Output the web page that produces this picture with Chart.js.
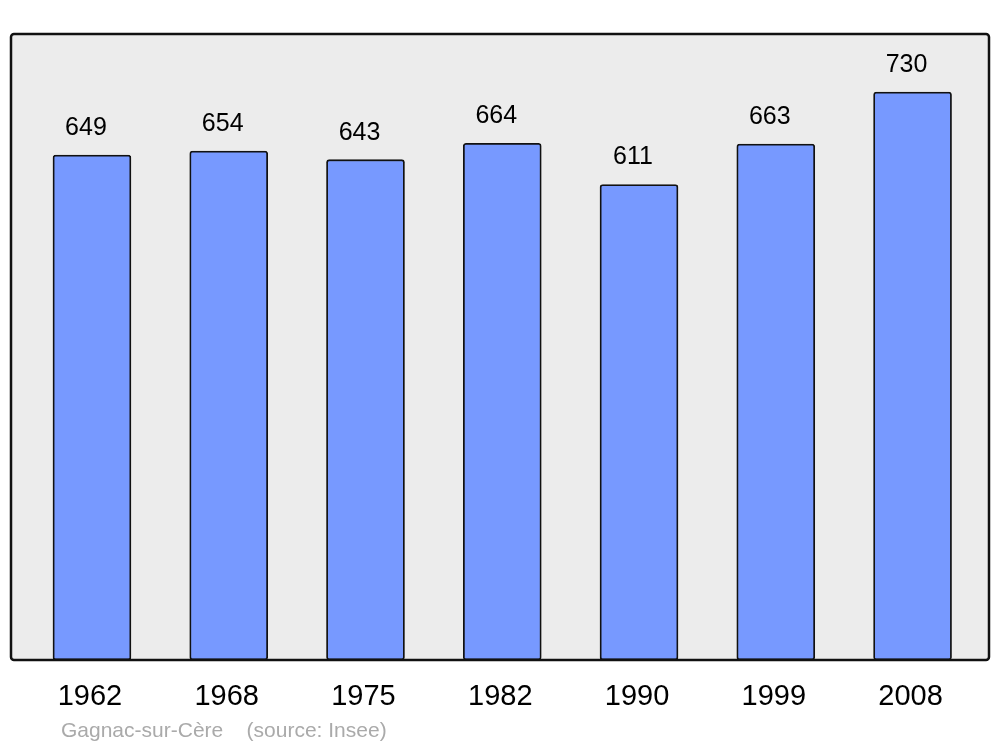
<!DOCTYPE html>
<html>
<head>
<meta charset="utf-8">
<script src="https://cdn.jsdelivr.net/npm/chart.js@4.4.1/dist/chart.umd.min.js"></script>
<style>
  html, body { margin: 0; padding: 0; background: #ffffff; }
  #wrap { width: 1000px; height: 747px; }
</style>
</head>
<body>
<div id="wrap"><canvas id="chart" width="1000" height="747"></canvas></div>
<script>
const years = ["1962", "1968", "1975", "1982", "1990", "1999", "2008"];
const population = [649, 654, 643, 664, 611, 663, 730];
const footerText = "Gagnac-sur-Cère    (source: Insee)";

const FONT = "'Liberation Sans', Arial, sans-serif";

// grey panel behind the bars + frame on top of them
const framePlugin = {
  id: "frame",
  beforeDatasetsDraw(chart) {
    const { ctx, chartArea: a } = chart;
    ctx.save();
    ctx.fillStyle = "#ececec";
    ctx.beginPath();
    ctx.roundRect(a.left, a.top, a.right - a.left, a.bottom - a.top, 3);
    ctx.fill();
    ctx.restore();
  },
  afterDatasetsDraw(chart) {
    const { ctx, chartArea: a } = chart;
    ctx.save();
    ctx.strokeStyle = "#111111";
    ctx.lineWidth = 2.5;
    ctx.beginPath();
    ctx.roundRect(a.left, a.top, a.right - a.left, a.bottom - a.top, 3);
    ctx.stroke();
    ctx.restore();
  },
};

const labelsPlugin = {
  id: "barLabels",
  afterDraw(chart) {
    const { ctx, chartArea: a } = chart;
    const xScale = chart.scales.x;
    const meta = chart.getDatasetMeta(0);
    ctx.save();
    ctx.textAlign = "center";
    ctx.textBaseline = "middle";
    ctx.fillStyle = "#000000";
    ctx.font = `25px ${FONT}`;
    meta.data.forEach((bar, i) => {
      ctx.fillText(String(population[i]), bar.x - 6, bar.y - 27);
    });
    ctx.font = `29px ${FONT}`;
    years.forEach((year, i) => {
      ctx.fillText(year, xScale.getPixelForValue(i) - 2, a.bottom + 37);
    });
    ctx.textAlign = "left";
    ctx.fillStyle = "#aaaaaa";
    ctx.font = `21px ${FONT}`;
    ctx.fillText(footerText, 61, a.bottom + 71);
    ctx.restore();
  },
};

new Chart(document.getElementById("chart"), {
  type: "bar",
  data: {
    datasets: [
      {
        data: population.map((v, i) => ({ x: i, y: v })),
        backgroundColor: "#7799ff",
        borderColor: "#111111",
        borderWidth: 1.8,
        borderRadius: 3,
        borderSkipped: false,
        barThickness: 78,
      },
    ],
  },
  options: {
    responsive: false,
    animation: false,
    devicePixelRatio: 1,
    layout: { padding: { left: 11, top: 34, right: 11, bottom: 87 } },
    plugins: { legend: { display: false }, tooltip: { enabled: false } },
    scales: {
      x: { type: "linear", display: false, offset: false, grid: { offset: false }, min: -0.592, max: 6.559 },
      y: { display: false, min: 0, max: 804.5 },
    },
  },
  plugins: [framePlugin, labelsPlugin],
});
</script>
</body>
</html>
